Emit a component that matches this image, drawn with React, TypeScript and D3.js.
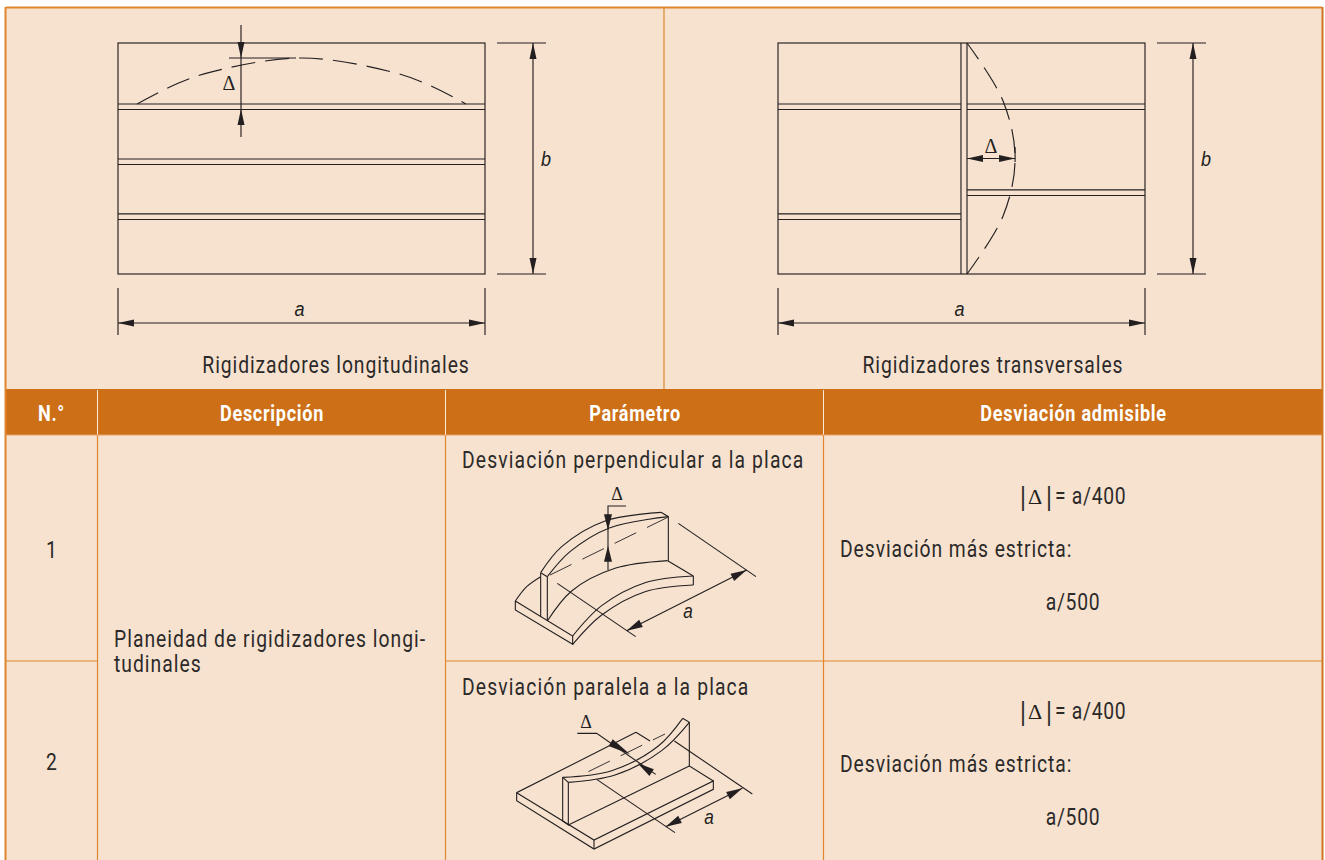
import * as d3 from "d3";

const WIDTH = 1325;
const HEIGHT = 860;

const BG = "#f7e2d0";
const HEADER = "#cc6f17";
const RULE = "#e0862f";
const INK = "#231f20";
const TEXT = "#2c2a29";
// no condensed face installed, so Roboto gets squeezed horizontally
const FONT = "Roboto, sans-serif";
const SQUEEZE = 0.84;

// table
const columnEdges = [6, 97, 445, 823, 1322];
const columnTitles = ["N.°", "Descripción", "Parámetro", "Desviación admisible"];
const rowNumbers = ["1", "2"];
const parameters = ["Desviación perpendicular a la placa", "Desviación paralela a la placa"];
const descriptionLines = ["Planeidad de rigidizadores longi-", "tudinales"];
const limitMain = "= a/400";
const limitNote = "Desviación más estricta:";
const limitStrict = "a/500";
const panelTitles = ["Rigidizadores longitudinales", "Rigidizadores transversales"];

// plan views, as fractions of a (x) and b (y)
const longStiffeners = [0.264, 0.502, 0.74];
const transStiffenersLeft = [0.264, 0.74];
const transStiffenersRight = [0.264, 0.636];
const stiffenerDepth = 0.024;
const transWeb = [0.4986, 0.515];
const longBow = [[0.052, 0.264], [0.15, 0.184], [0.25, 0.127], [0.5, 0.065], [0.75, 0.127], [0.85, 0.184], [0.948, 0.264]];
const transBow = [[0.515, 0], [0.613, 0.25], [0.646, 0.5], [0.613, 0.75], [0.515, 1]];

// isometric sketches, in sketch units (3 per pixel)
const iso1Curves = [
  [[211, 498], [245, 455], [287, 425]],
  [[383, 603], [470, 512], [600, 443], [745, 423]],
  [[383, 628], [470, 540], [600, 470], [745, 450]],
  [[287, 413], [350, 335], [480, 258], [648, 232]],
  [[307, 425], [375, 350], [495, 278], [670, 245]],
  [[307, 558], [380, 468], [510, 400], [668, 377]],
];
const iso1Lines = [
  [[211, 498], [211, 525], [383, 628], [383, 603], [211, 498]],
  [[745, 423], [745, 450]],
  [[745, 423], [668, 377]],
  [[287, 413], [287, 545]],
  [[307, 425], [307, 558]],
  [[287, 413], [307, 425]],
  [[648, 232], [670, 245], [670, 377]],
  [[489, 405], [489, 213], [543, 213]],
  [[700, 265], [933, 425]],
  [[337, 445], [572, 605]],
  [[545, 587], [905, 405]],
];
const iso1Dashes = [[315, 420], [668, 247]];
const iso1Arrows = [
  { tip: [489, 286], from: [489, 238] },
  { tip: [489, 332], from: [489, 380] },
  { tip: [905, 405], from: [862, 427] },
  { tip: [545, 587], from: [588, 565] },
];
const iso2Curves = [
  [[353, 352], [500, 332], [640, 258], [713, 175]],
  [[370, 367], [510, 345], [650, 272], [733, 187]],
];
const iso2Lines = [
  [[573, 217], [215, 398], [215, 422], [447, 567], [805, 388], [805, 363], [447, 540], [215, 398]],
  [[573, 217], [615, 243]],
  [[447, 540], [447, 567]],
  [[713, 175], [733, 187], [733, 318], [805, 363]],
  [[353, 352], [370, 367]],
  [[353, 352], [353, 483], [370, 495], [370, 367]],
  [[370, 495], [733, 318]],
  [[397, 220], [455, 220], [632, 343]],
  [[688, 243], [922, 402]],
  [[455, 358], [690, 518]],
  [[662, 500], [892, 385]],
];
const iso2Dashes = [[430, 335], [660, 222]];
const iso2Arrows = [
  { tip: [555, 283], from: [497, 248] },
  { tip: [578, 310], from: [620, 338] },
  { tip: [892, 385], from: [849, 407] },
  { tip: [662, 500], from: [705, 478] },
];

const Arrow = ({ tip, from, width = 7 }) => {
  const dx = from[0] - tip[0];
  const dy = from[1] - tip[1];
  const len = Math.hypot(dx, dy);
  const nx = (-dy / len) * (width / 2);
  const ny = (dx / len) * (width / 2);
  const d = d3.path();
  d.moveTo(tip[0], tip[1]);
  d.lineTo(from[0] + nx, from[1] + ny);
  d.lineTo(from[0] - nx, from[1] - ny);
  d.closePath();
  return <path d={d.toString()} fill={INK} stroke="none" />;
};

const Label = ({ x, y, anchor = "start", size = 23, weight = 400, fill = TEXT, spacing = 1.2, children }) => (
  <text
    transform={`translate(${x},${y}) scale(${SQUEEZE},1)`}
    textAnchor={anchor}
    fontFamily={FONT}
    fontSize={size}
    fontWeight={weight}
    fill={fill}
    letterSpacing={spacing}
  >
    {children}
  </text>
);

const Delta = ({ x, y, size = 20 }) => (
  <text x={x} y={y} textAnchor="middle" fontFamily="'Liberation Serif', serif" fontSize={size} fill={INK} stroke="none">
    Δ
  </text>
);

const Italic = ({ x, y, size = 21, children }) => (
  <text
    transform={`translate(${x},${y}) scale(0.86,1)`}
    textAnchor="middle"
    fontFamily="'Liberation Sans', sans-serif"
    fontStyle="italic"
    fontSize={size}
    fill={INK}
    stroke="none"
  >
    {children}
  </text>
);

const PlanFrame = ({ left, top, right, bottom, dimX, children }) => {
  const midX = (left + right) / 2;
  const midY = (top + bottom) / 2;
  return (
    <g fill="none" stroke={INK} strokeWidth={1.15}>
      <rect x={left} y={top} width={right - left} height={bottom - top} />
      {children}
      <line x1={left} x2={left} y1={bottom + 14} y2={bottom + 61} />
      <line x1={right} x2={right} y1={bottom + 14} y2={bottom + 61} />
      <line x1={left} x2={right} y1={bottom + 49} y2={bottom + 49} />
      <Arrow tip={[left, bottom + 49]} from={[left + 16, bottom + 49]} />
      <Arrow tip={[right, bottom + 49]} from={[right - 16, bottom + 49]} />
      <Italic x={midX - 2} y={bottom + 42}>a</Italic>
      <line x1={dimX - 36} x2={dimX + 13} y1={top} y2={top} />
      <line x1={dimX - 36} x2={dimX + 13} y1={bottom} y2={bottom} />
      <line x1={dimX} x2={dimX} y1={top} y2={bottom} />
      <Arrow tip={[dimX, top]} from={[dimX, top + 16]} />
      <Arrow tip={[dimX, bottom]} from={[dimX, bottom - 16]} />
      <Italic x={dimX + 13} y={midY + 7}>b</Italic>
    </g>
  );
};

const Sketch = ({ originX, originY, curves, lines, dashes, arrows }) => {
  const x = d3.scaleLinear().domain([0, 3]).range([originX, originX + 1]);
  const y = d3.scaleLinear().domain([0, 3]).range([originY, originY + 1]);
  const straight = d3.line().x((p) => x(p[0])).y((p) => y(p[1]));
  const smooth = d3.line().x((p) => x(p[0])).y((p) => y(p[1])).curve(d3.curveCatmullRom.alpha(0.5));
  return (
    <g fill="none" stroke={INK} strokeWidth={1.1}>
      {lines.map((l, i) => <path key={i} d={straight(l)} />)}
      {curves.map((c, i) => <path key={i} d={smooth(c)} />)}
      <path d={straight(dashes)} strokeDasharray="24 12" strokeWidth={0.9} />
      {arrows.map((a, i) => (
        <Arrow key={i} tip={[x(a.tip[0]), y(a.tip[1])]} from={[x(a.from[0]), y(a.from[1])]} width={8} />
      ))}
    </g>
  );
};

const Limit = ({ top }) => (
  <g>
    <Label x={1020} y={top + 3} size={29}>|</Label>
    <Delta x={1035} y={top} size={22} />
    <Label x={1046} y={top + 3} size={29}>|</Label>
    <Label x={1055} y={top} spacing={0.85}>{limitMain}</Label>
    <Label x={840} y={top + 53} spacing={1.1}>{limitNote}</Label>
    <Label x={1073} y={top + 106} anchor="middle" spacing={0.85}>{limitStrict}</Label>
  </g>
);

export default function App() {
  const lx = d3.scaleLinear().domain([0, 1]).range([118, 485]);
  const rx = d3.scaleLinear().domain([0, 1]).range([778, 1145]);
  const py = d3.scaleLinear().domain([0, 1]).range([43, 274]);
  const bow = d3.line().curve(d3.curveCatmullRom.alpha(0.5));
  const tableTop = 389;
  const headBottom = 435;
  const rowSplit = 661;

  return (
    <svg width={WIDTH} height={HEIGHT} style={{ position: "absolute", left: 0, top: 0, background: "#fff" }}>
      <rect x={6} y={8} width={1316} height={HEIGHT - 8} fill={BG} />
      <rect x={6} y={tableTop} width={1316} height={headBottom - tableTop} fill={HEADER} />

      {/* frame and grid */}
      <g stroke={RULE} strokeWidth={1.2}>
        <line x1={6} x2={1322} y1={7.5} y2={7.5} strokeWidth={2} />
        <line x1={5.5} x2={5.5} y1={7} y2={HEIGHT} strokeWidth={2} />
        <line x1={1322.5} x2={1322.5} y1={7} y2={HEIGHT} strokeWidth={2} stroke="#cf7420" />
        <line x1={664} x2={664} y1={8} y2={tableTop} />
        <line x1={6} x2={1322} y1={rowSplit} y2={rowSplit} />
        {columnEdges.slice(1, 4).map((c) => <line key={c} x1={c + 0.5} x2={c + 0.5} y1={headBottom} y2={HEIGHT} />)}
      </g>
      <rect x={98.2} y={rowSplit - 1} width={346.6} height={3} fill={BG} />
      {columnEdges.slice(1, 4).map((c) => (
        <line key={c} x1={c + 0.5} x2={c + 0.5} y1={tableTop + 1} y2={headBottom} stroke="#fbeadb" strokeWidth={1} />
      ))}
      <line x1={6} x2={1322} y1={headBottom} y2={headBottom} stroke="#e9a266" />

      {columnTitles.map((t, i) => (
        <Label key={t} x={(columnEdges[i] + columnEdges[i + 1]) / 2 + (i === 0 ? 0 : 1)} y={421} anchor="middle" size={21.5} weight={700} fill="#fff" spacing={0.85}>
          {t}
        </Label>
      ))}

      {/* longitudinal stiffeners */}
      <PlanFrame left={lx(0)} top={py(0)} right={lx(1)} bottom={py(1)} dimX={533}>
        {longStiffeners.map((s) => (
          <g key={s}>
            <line x1={lx(0)} x2={lx(1)} y1={py(s)} y2={py(s)} />
            <line x1={lx(0)} x2={lx(1)} y1={py(s + stiffenerDepth)} y2={py(s + stiffenerDepth)} />
          </g>
        ))}
        <path d={bow(longBow.map((p) => [lx(p[0]), py(p[1])]))} strokeDasharray="24 10" />
        <line x1={241} x2={241} y1={25} y2={137} />
        <line x1={229} x2={296} y1={py(0.065)} y2={py(0.065)} />
        <Arrow tip={[241, 58]} from={[241, 42]} />
        <Arrow tip={[241, 109]} from={[241, 125]} />
      </PlanFrame>
      <Delta x={229} y={90} />

      {/* transverse stiffeners */}
      <PlanFrame left={rx(0)} top={py(0)} right={rx(1)} bottom={py(1)} dimX={1193}>
        {transStiffenersLeft.map((s) => (
          <g key={s}>
            <line x1={rx(0)} x2={rx(transWeb[0])} y1={py(s)} y2={py(s)} />
            <line x1={rx(0)} x2={rx(transWeb[0])} y1={py(s + stiffenerDepth)} y2={py(s + stiffenerDepth)} />
          </g>
        ))}
        {transStiffenersRight.map((s) => (
          <g key={s}>
            <line x1={rx(transWeb[1])} x2={rx(1)} y1={py(s)} y2={py(s)} />
            <line x1={rx(transWeb[1])} x2={rx(1)} y1={py(s + stiffenerDepth)} y2={py(s + stiffenerDepth)} />
          </g>
        ))}
        {transWeb.map((w) => <line key={w} x1={rx(w)} x2={rx(w)} y1={py(0)} y2={py(1)} />)}
        <path d={bow(transBow.map((p) => [rx(p[0]), py(p[1])]))} strokeDasharray="24 10" strokeDashoffset={4} />
        <line x1={rx(0.515)} x2={rx(0.646)} y1={py(0.5)} y2={py(0.5)} />
        <line x1={rx(0.646)} x2={rx(0.646)} y1={py(0.45)} y2={py(0.515)} />
        <Arrow tip={[rx(0.515), py(0.5)]} from={[rx(0.515) + 16, py(0.5)]} />
        <Arrow tip={[rx(0.646), py(0.5)]} from={[rx(0.646) - 16, py(0.5)]} />
      </PlanFrame>
      <Delta x={991} y={153} />

      {panelTitles.map((t, i) => (
        <Label key={t} x={i === 0 ? 336 : 993} y={373} anchor="middle" spacing={1.1}>{t}</Label>
      ))}

      {/* body rows */}
      {rowNumbers.map((n, i) => (
        <Label key={n} x={52} y={i === 0 ? 558 : 770} anchor="middle">{n}</Label>
      ))}
      {descriptionLines.map((l, i) => (
        <Label key={l} x={114} y={647 + i * 25}>{l}</Label>
      ))}
      {parameters.map((p, i) => (
        <Label key={p} x={462} y={i === 0 ? 468 : 695} spacing={1.35}>{p}</Label>
      ))}

      <Sketch originX={445} originY={435} curves={iso1Curves} lines={iso1Lines} dashes={iso1Dashes} arrows={iso1Arrows} />
      <Delta x={617} y={500} size={18} />
      <Italic x={688} y={618} size={20}>a</Italic>

      <Sketch originX={445} originY={660} curves={iso2Curves} lines={iso2Lines} dashes={iso2Dashes} arrows={iso2Arrows} />
      <Delta x={586} y={728} size={18} />
      <Italic x={709} y={824} size={20}>a</Italic>

      <Limit top={504} />
      <Limit top={719} />
    </svg>
  );
}
